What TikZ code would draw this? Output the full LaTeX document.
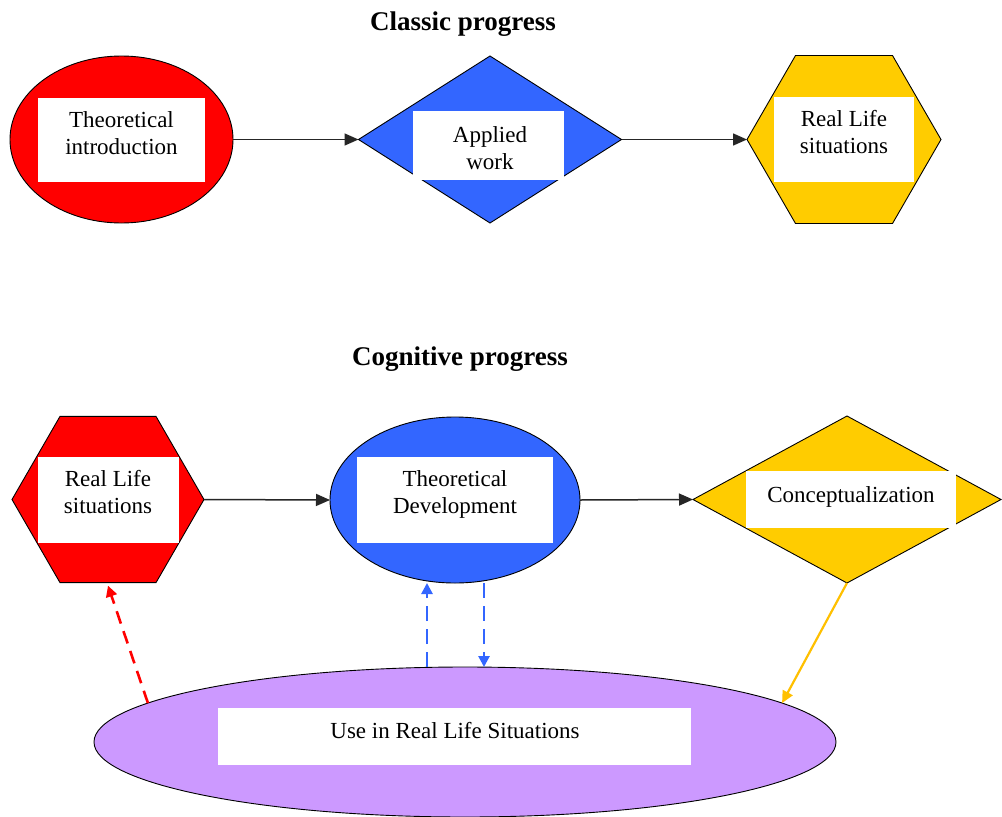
\documentclass[tikz,border=0pt]{standalone}
\usepackage{fontspec}
\setmainfont{Liberation Serif}
\usetikzlibrary{shapes.geometric,arrows.meta}
\definecolor{cred}{HTML}{FF0000}
\definecolor{cblue}{HTML}{3366FF}
\definecolor{cyel}{HTML}{FFCC00}
\definecolor{cpur}{HTML}{CC99FF}
\definecolor{cline}{HTML}{FFC000}
\begin{document}
\begin{tikzpicture}[x=1pt,y=-1pt,
  shp/.style={draw=black, line width=0.9pt, inner sep=0pt, outer sep=0pt},
  wbox/.style={fill=white, inner sep=0pt, outer sep=0pt},
  txt/.style={font=\fontsize{23}{27}\selectfont, align=center, inner sep=0pt},
  ttl/.style={font=\fontsize{27}{32}\selectfont\bfseries, inner sep=0pt, anchor=base},
  conn/.style={draw=black!85, line width=1.5pt, -{Triangle[length=14pt,width=12pt]}},
  dred/.style={draw=cred, line width=2.6pt, dash pattern=on 13pt off 8pt, -{Triangle[length=11pt,width=11pt]}},
  dblue/.style={draw=cblue, line width=2.6pt, dash pattern=on 15pt off 8pt, -{Triangle[length=11pt,width=11pt]}},
  ylw/.style={draw=cline, line width=2.2pt, -{Triangle[length=12pt,width=11pt]}}
]
\useasboundingbox[fill=white] (0,0) rectangle (1002,817);

% titles
\node[ttl] (title1) at (463,30) {Classic progress};
\node[ttl] (title2) at (460,365) {Cognitive progress};

% classic progress shapes
\node[shp, ellipse, fill=cred, minimum width=223pt, minimum height=167pt] (e1) at (121.5,139.5) {};
\node[shp, diamond, fill=cblue, minimum width=263pt, minimum height=167pt] (d1) at (490,139.5) {};
\node[shp, regular polygon, regular polygon sides=6, fill=cyel, minimum size=194pt] (h1) at (844,139.5) {};

\node[wbox, minimum width=167pt, minimum height=84pt] (b1) at (121.5,140) {};
\node[wbox, minimum width=151pt, minimum height=69pt] (b2) at (488.5,145.5) {};
\node[wbox, minimum width=140pt, minimum height=85pt] (b3) at (844,139.5) {};

\node[txt] (t1) at (121.5,136) {\strut Theoretical\\\strut introduction};
\node[txt] (t2) at (490,151) {\strut Applied\\\strut work};
\node[txt] (t3) at (844,135) {\strut Real Life\\\strut situations};

% cognitive progress shapes
\node[shp, regular polygon, regular polygon sides=6, fill=cred, minimum size=192pt] (h2) at (108,499.5) {};
\node[shp, ellipse, fill=cblue, minimum width=250pt, minimum height=166pt] (be) at (455,500) {};
\node[shp, diamond, fill=cyel, minimum width=308pt, minimum height=167pt] (d2) at (847,499.5) {};
\node[shp, ellipse, fill=cpur, minimum width=742pt, minimum height=150pt] (pe) at (465,742) {};

\node[wbox, minimum width=141pt, minimum height=86pt] (b4) at (108.5,500) {};
\node[wbox, minimum width=196pt, minimum height=86pt] (b5) at (455,500) {};
\node[wbox, minimum width=210pt, minimum height=57pt] (b6) at (851,499.5) {};
\node[wbox, minimum width=473pt, minimum height=57pt] (b7) at (454.5,736.5) {};

\node[txt] (t4) at (108,495) {\strut Real Life\\\strut situations};
\node[txt] (t5) at (455,495) {\strut Theoretical\\\strut Development};
\node[txt] (t6) at (851,496.6) {\strut Conceptualization};
\node[txt] (t7) at (455,732.6) {\strut Use in Real Life Situations};

% connectors
\draw[conn] (e1.east) -- (d1.west);
\draw[conn] (d1.east) -- (h1.west);
\draw[conn] (h2.east) -- (be.west);
\draw[conn] (be.east) -- (d2.west);

\draw[dred] (pe.173) -- ([yshift=-3pt]h2.south);
\draw[dblue] ([xshift=-38pt]pe.north) -- ([xshift=-28pt]be.south);
\draw[dblue] ([xshift=29pt]be.south) -- ([xshift=19pt]pe.north);
\draw[ylw] (d2.south) -- (pe.7);
\end{tikzpicture}
\end{document}
